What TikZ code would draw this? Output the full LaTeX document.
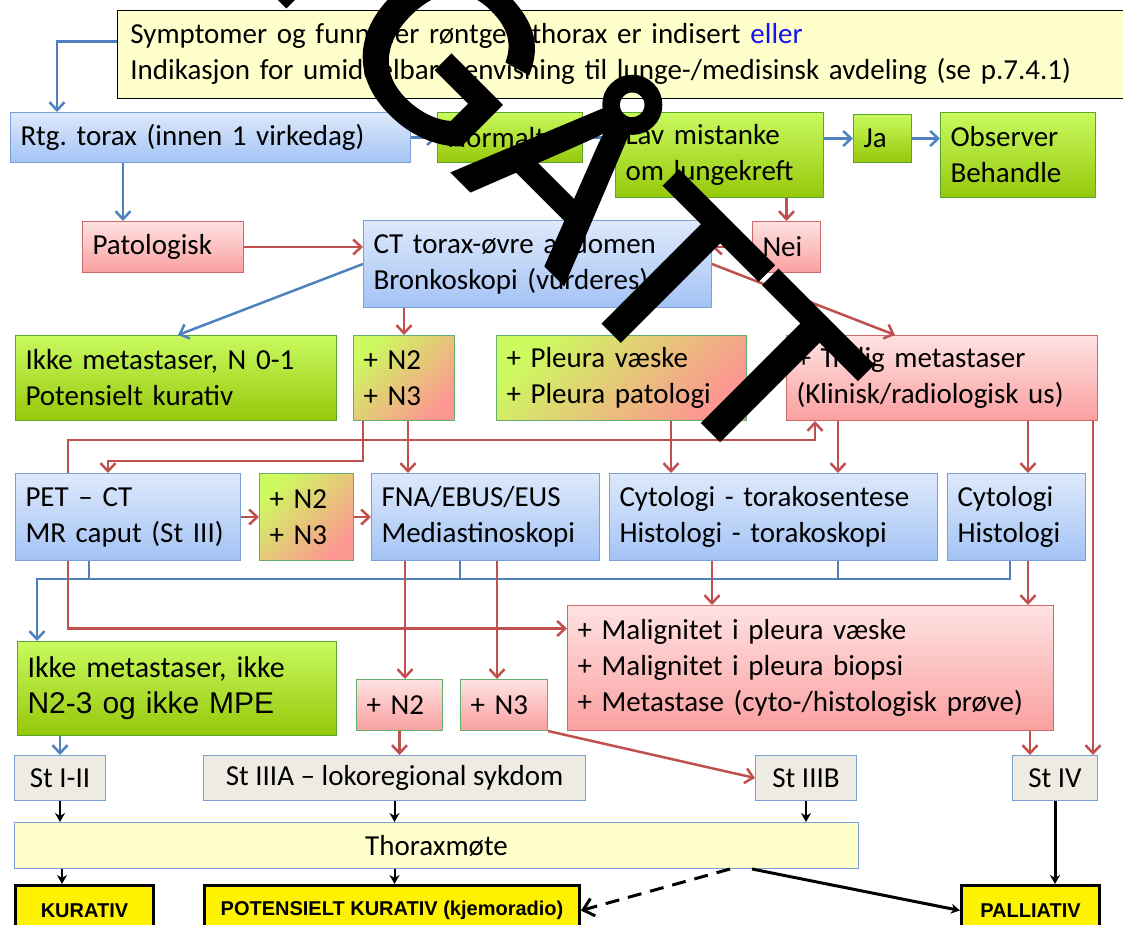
\documentclass[tikz,border=0pt]{standalone}
\usepackage{fontspec}
\setmainfont{Carlito}
\newfontfamily\arialfont{Liberation Sans}
\newfontfamily\stampfont[FakeBold=2.5]{Liberation Sans}
\usetikzlibrary{arrows.meta}

\definecolor{lineblue}{RGB}{79,129,189}
\definecolor{linered}{RGB}{192,80,77}
\definecolor{bluetop}{RGB}{222,233,251}
\definecolor{bluebot}{RGB}{163,195,245}
\definecolor{blueedge}{RGB}{120,160,214}
\definecolor{greentop}{RGB}{200,250,95}
\definecolor{greenbot}{RGB}{150,200,10}
\definecolor{greenedge}{RGB}{90,165,45}
\definecolor{redtop}{RGB}{255,226,226}
\definecolor{redbot}{RGB}{250,160,160}
\definecolor{rededge}{RGB}{205,105,105}
\definecolor{mixgreen}{RGB}{205,250,95}
\definecolor{mixred}{RGB}{252,150,145}
\definecolor{mixedge}{RGB}{100,175,110}
\definecolor{stagefill}{RGB}{238,236,226}
\definecolor{paleyellow}{RGB}{255,255,204}
\definecolor{ellerblue}{RGB}{20,20,240}

\begin{document}
\frenchspacing
\begin{tikzpicture}[x=1pt,y=-1pt,>={Straight Barb[length=8pt,width=15pt]},
                    box/.style={draw,anchor=north west,align=left,inner xsep=10pt,
                                inner ysep=0pt,line width=1pt,
                                font=\fontsize{29}{36}\selectfont}]
  \tikzstyle{blue box}=[box,draw=blueedge,top color=bluetop,bottom color=bluebot]
  \tikzstyle{green box}=[box,draw=greenedge,top color=greentop,bottom color=greenbot]
  \tikzstyle{red box}=[box,draw=rededge,top color=redtop,bottom color=redbot]
  \tikzstyle{mix box}=[box,draw=mixedge,top color=mixgreen,bottom color=mixred,shading angle=45]
  \tikzstyle{stage box}=[box,align=center,draw=blueedge,fill=stagefill]
  \tikzstyle{end box}=[box,align=center,line width=3pt,fill=yellow,
                       font=\arialfont\bfseries\fontsize{20}{24}\selectfont]
  \tikzstyle{blue link}=[->,draw=lineblue,line width=2.5pt]
  \tikzstyle{blue bus}=[draw=lineblue,line width=2.5pt]
  \tikzstyle{red link}=[->,draw=linered,line width=2.5pt]
  \tikzstyle{black link}=[-{Stealth[length=9pt,width=10pt]},line width=2pt]

  \useasboundingbox (0,0) rectangle (1123,924);

  % first rows
  \node[box,fill=paleyellow,line width=0.8pt,text width=1010pt,minimum height=88pt,inner xsep=13pt]
       (sympt) at (117,10)
       {Symptomer og funn der røntgen thorax er indisert \textcolor{ellerblue}{eller}\\
        Indikasjon for umiddelbar henvisning til lunge-/medisinsk avdeling (se p.7.4.1)};
  \node[blue box,text width=380pt,minimum height=50pt] (rtg) at (10,112) {Rtg. torax (innen 1 virkedag)};
  \node[green box,text width=125pt,minimum height=50pt] (normalt) at (437,112) {Normalt};
  \node[green box,text width=188pt,minimum height=85pt] (lav) at (615,112) {Lav mistanke\\om lungekreft};
  \node[green box,text width=38pt,minimum height=48pt] (ja) at (853,114) {Ja};
  \node[green box,text width=135pt,minimum height=85pt] (obs) at (940,112) {Observer\\Behandle};
  \node[red box,text width=141pt,minimum height=51pt] (pat) at (82,221) {Patologisk};
  \node[blue box,text width=328pt,minimum height=87pt] (ct) at (363,220) {CT torax-øvre abdomen\\Bronkoskopi (vurderes)};
  \node[red box,text width=48pt,minimum height=51pt] (nei) at (752,221) {Nei};

  % funn
  \node[green box,text width=301pt,minimum height=85pt] (ikkeA) at (15,335) {Ikke metastaser, N 0-1\\Potensielt kurativ};
  \node[mix box,text width=81pt,minimum height=85pt] (nodesA) at (353,335) {+ N2\\+ N3};
  \node[mix box,text width=230pt,minimum height=85pt] (pleura) at (496,335) {+ Pleura væske\\+ Pleura patologi};
  \node[red box,text width=291pt,minimum height=85pt] (trolig) at (786,335) {+ Trolig metastaser\\(Klinisk/radiologisk~us)};

  % utredning
  \node[blue box,text width=205pt,minimum height=87pt] (pet) at (15,473) {PET -- CT\\MR~caput~(St~III)};
  \node[mix box,text width=74pt,minimum height=87pt] (nodesB) at (259,473) {+ N2\\+ N3};
  \node[blue box,text width=208pt,minimum height=87pt] (fna) at (371,473) {FNA/EBUS/EUS\\Mediastinoskopi};
  \node[blue box,text width=308pt,minimum height=87pt] (cytoA) at (609,473) {Cytologi - torakosentese\\Histologi - torakoskopi};
  \node[blue box,text width=118pt,minimum height=87pt] (cytoB) at (947,473) {Cytologi\\Histologi};

  % resultat
  \node[red box,text width=466pt,minimum height=125pt] (malig) at (567,605)
       {+ Malignitet i pleura væske\\+ Malignitet i pleura biopsi\\+ Metastase~(cyto-/histologisk~prøve)};
  \node[green box,text width=299pt,minimum height=94pt,font=\fontsize{30}{36}\selectfont] (ikkeB) at (17,641)
       {Ikke metastaser, ikke\\{\arialfont N2-3 og ikke MPE}};
  \node[red box,text width=66pt,minimum height=51pt,draw=mixedge] (ntwo) at (356,679) {+ N2};
  \node[red box,text width=67pt,minimum height=51pt,draw=mixedge] (nthree) at (460,679) {+ N3};

  % stadier
  \node[stage box,minimum width=91pt,minimum height=45pt] (stI) at (14,755) {St I-II};
  \node[stage box,minimum width=382pt,minimum height=45pt] (stIIIA) at (203,755) {St IIIA -- lokoregional sykdom};
  \node[stage box,minimum width=101pt,minimum height=45pt] (stIIIB) at (755,755) {St IIIB};
  \node[stage box,minimum width=85pt,minimum height=45pt] (stIV) at (1012,755) {St IV};
  \node[stage box,fill=paleyellow,minimum width=844pt,minimum height=46pt] (thorax) at (14,822) {Thoraxmøte};
  \node[end box,minimum width=138pt,minimum height=50pt] (kur) at (14,884) {KURATIV};
  \node[end box,minimum width=375pt,minimum height=50pt] (pot) at (203,884) {POTENSIELT KURATIV (kjemoradio)};
  \node[end box,minimum width=138pt,minimum height=50pt] (pal) at (960,884) {PALLIATIV};

  % blue links
  \draw[blue link] ([yshift=13pt]sympt.west) -| ([xshift=47pt]rtg.north west);
  \draw[blue link] (rtg.east) -- (normalt.west);
  \draw[blue link] (normalt.east) -- (normalt.east -| lav.west);
  \draw[blue link] (lav.east |- ja.west) -- (ja.west);
  \draw[blue link] (ja.east) -- (ja.east -| obs.west);
  \draw[blue link] ([xshift=113pt]rtg.south west) -- ([xshift=113pt]rtg.south west |- pat.north);
  \draw[blue link] (ct.west) -- ([xshift=163pt]ikkeA.north west);
  \draw[blue link] ([xshift=63pt]cytoB.south west) -- ++(0,18) -| ([xshift=20pt]ikkeB.north west);
  \draw[blue bus] ([xshift=74pt]pet.south west) -- ++(0,18);
  \draw[blue bus] ([xshift=89pt]fna.south west) -- ++(0,18);
  \draw[blue bus] ([xshift=229pt]cytoA.south west) -- ++(0,18);
  \draw[blue link] (ikkeB.south -| stI.north) -- (stI.north);

  % red links
  \draw[red link] (pat.east) -- (pat.east -| ct.west);
  \draw[red link] (lav.south -| nei.north) -- (nei.north);
  \draw[red link] (nei.west) -- (nei.west -| ct.east);
  \draw[red link] (ct.south -| nodesA.north) -- (nodesA.north);
  \draw[red link] (ct.south -| pleura.north) -- (pleura.north);
  \draw[red link] (ct.east) -- ([xshift=109pt]trolig.north west);
  \draw[red link] ([xshift=55pt]nodesA.south west) -- ([xshift=55pt]nodesA.south west |- fna.north);
  \draw[red link] ([xshift=10pt]nodesA.south west) -- ++(0,40) -| ([xshift=93pt]pet.north west);
  \draw[red link] ([xshift=53pt]pet.north west) -- ++(0,-33) -| ([xshift=29pt]trolig.south west);
  \draw[red link] ([xshift=175pt]pleura.south west) -- ([xshift=175pt]pleura.south west |- cytoA.north);
  \draw[red link] ([xshift=52pt]trolig.south west) -- ([xshift=52pt]trolig.south west |- cytoA.north);
  \draw[red link] ([xshift=242pt]trolig.south west) -- ([xshift=242pt]trolig.south west |- cytoB.north);
  \draw[red link] ([xshift=307pt]trolig.south west) -- ([xshift=307pt]trolig.south west |- stIV.north);
  \draw[red link] (pet.east) -- (nodesB.west);
  \draw[red link] (nodesB.east) -- (fna.west);
  \draw[red link] ([xshift=53pt]pet.south west) |- ([yshift=39.5pt]malig.west);
  \draw[red link] ([xshift=34pt]fna.south west) -- ([xshift=34pt]fna.south west |- ntwo.north);
  \draw[red link] ([xshift=126pt]fna.south west) -- ([xshift=126pt]fna.south west |- nthree.north);
  \draw[red link] ([xshift=103pt]cytoA.south west) -- ([xshift=103pt]cytoA.south west |- malig.north);
  \draw[red link] ([xshift=81pt]cytoB.south west) -- ([xshift=81pt]cytoB.south west |- malig.north);
  \draw[red link] (ntwo.south) -- (ntwo.south |- stIIIA.north);
  \draw[red link] (nthree.south east) -- (stIIIB.west);
  \draw[red link] ([xshift=463pt]malig.south west) -- ([xshift=463pt]malig.south west |- stIV.north);

  % black links
  \draw[black link] (stI.south) -- (stI.south |- thorax.north);
  \draw[black link] (stIIIA.south) -- (stIIIA.south |- thorax.north);
  \draw[black link] (stIIIB.south) -- (stIIIB.south |- thorax.north);
  \draw[black link] ([xshift=48pt]kur.north west |- thorax.south) -- ([xshift=48pt]kur.north west);
  \draw[black link] (stIIIA.south |- thorax.south) -- (stIIIA.south |- pot.north);
  \draw[black link,line width=3pt] (stIV.south) -- (stIV.south |- pal.north);
  \draw[-{Straight Barb[length=10pt,width=18pt]},line width=3pt,dash pattern=on 14pt off 9pt]
       ([xshift=716pt]thorax.south west) -- (pot.east);
  \draw[black link,line width=3pt] ([xshift=738pt]thorax.south west) -- (pal.west);

  % stempel
  \node[rotate=-45,anchor=base,inner sep=0pt,font=\stampfont\fontsize{230}{230}\selectfont] (stamp) at (437,155) {UTGÅTT};
\end{tikzpicture}
\end{document}
